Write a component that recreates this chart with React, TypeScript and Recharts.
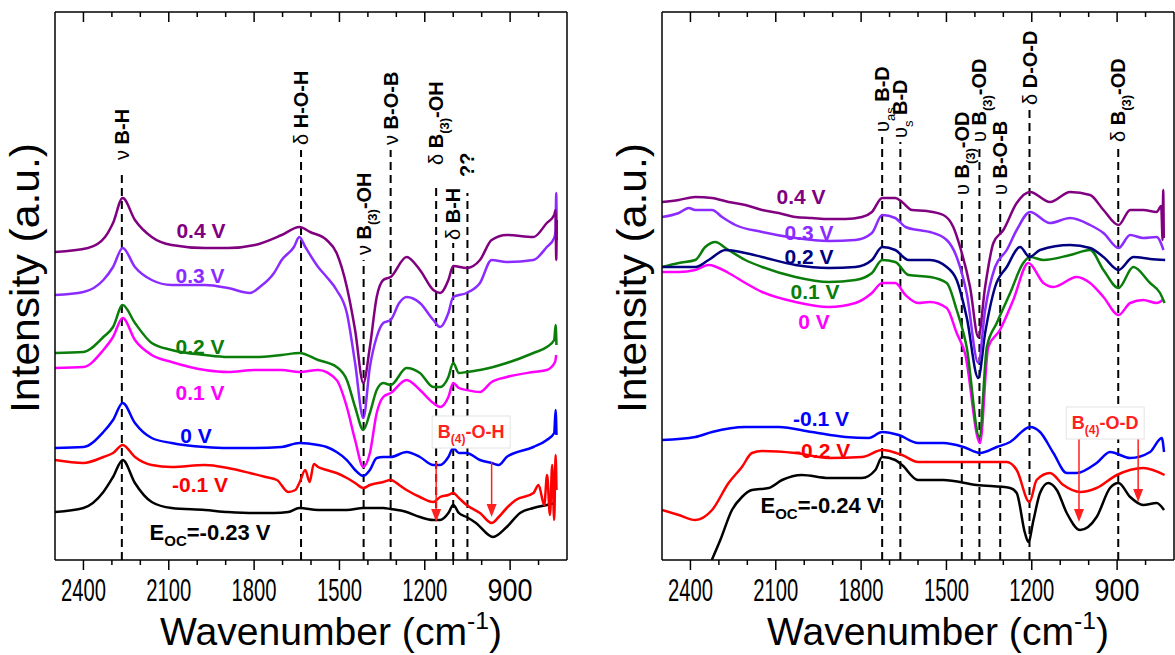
import React from 'react';
import { LineChart, Line, XAxis, YAxis, ReferenceLine, ReferenceDot } from 'recharts';

type Pt = [number, number];

// wavenumber (cm-1), intensity (a.u., stacked offsets as plotted)
// ---- left panel ----
const lEoc: Pt[] = [[2500, 48], [2400, 52], [2330, 68], [2296, 83], [2262, 100], [2219, 77], [2160, 58], [2090, 52], [1973, 50], [1892, 48], [1797, 47], [1730, 47], [1680, 48], [1641, 52], [1575, 50], [1474, 50], [1416, 52], [1346, 52], [1320, 51], [1264, 48], [1217, 43], [1170, 40], [1146, 40], [1117, 47], [1100, 55], [1080, 47], [1053, 43], [1020, 37], [960, 23], [912, 33], [865, 47], [818, 52], [771, 55], [742, 57]];
const lM01: Pt[] = [[2500, 100], [2400, 97], [2330, 103], [2296, 107], [2262, 115], [2219, 103], [2160, 95], [2090, 93], [1973, 95], [1892, 92], [1815, 87], [1760, 83], [1720, 80], [1680, 68], [1655, 70], [1641, 77], [1620, 90], [1605, 78], [1590, 96], [1575, 93], [1545, 90], [1510, 87], [1474, 82], [1445, 77], [1416, 72], [1393, 75], [1346, 78], [1320, 80], [1290, 75], [1264, 70], [1217, 63], [1170, 58], [1146, 63], [1117, 65], [1100, 67], [1080, 62], [1053, 55], [1006, 47], [965, 37], [940, 43], [912, 52], [880, 60], [818, 67], [800, 75], [780, 55], [770, 85], [760, 45], [752, 95], [745, 40], [740, 105], [737, 70]];
const l0: Pt[] = [[2500, 112], [2400, 113], [2330, 128], [2296, 140], [2262, 157], [2219, 137], [2160, 122], [2090, 117], [1973, 113], [1892, 112], [1797, 112], [1703, 113], [1641, 117], [1575, 115], [1545, 113], [1510, 108], [1474, 100], [1445, 90], [1416, 84], [1393, 90], [1369, 102], [1346, 103], [1320, 103], [1264, 108], [1217, 103], [1170, 95], [1146, 95], [1117, 103], [1100, 112], [1080, 107], [1053, 107], [1006, 100], [965, 97], [940, 95], [912, 103], [818, 113], [771, 120], [745, 127], [740, 150], [737, 125]];
const l01: Pt[] = [[2500, 192], [2400, 193], [2330, 210], [2296, 223], [2262, 242], [2219, 220], [2160, 205], [2090, 198], [1973, 190], [1892, 188], [1797, 190], [1703, 190], [1641, 188], [1575, 190], [1510, 180], [1474, 153], [1445, 120], [1416, 93], [1393, 107], [1369, 147], [1346, 163], [1320, 167], [1264, 180], [1217, 170], [1170, 157], [1146, 153], [1117, 163], [1100, 177], [1080, 172], [1053, 170], [1006, 168], [965, 178], [912, 183], [818, 188], [771, 190], [742, 198], [738, 205]];
const l02: Pt[] = [[2500, 207], [2400, 208], [2330, 223], [2296, 233], [2262, 255], [2219, 237], [2160, 217], [2090, 210], [1973, 205], [1892, 203], [1797, 203], [1703, 205], [1641, 207], [1575, 200], [1510, 193], [1474, 180], [1445, 153], [1416, 130], [1393, 147], [1369, 170], [1346, 177], [1320, 175], [1264, 192], [1217, 187], [1170, 173], [1146, 173], [1117, 183], [1100, 197], [1080, 187], [1053, 188], [1006, 190], [912, 197], [818, 207], [771, 213], [745, 220], [740, 235], [737, 215]];
const l03: Pt[] = [[2500, 265], [2400, 268], [2330, 280], [2296, 293], [2262, 312], [2219, 293], [2160, 280], [2090, 275], [1973, 275], [1892, 272], [1815, 267], [1780, 273], [1730, 287], [1703, 300], [1660, 313], [1641, 323], [1620, 313], [1575, 293], [1545, 283], [1510, 270], [1474, 247], [1445, 197], [1416, 142], [1393, 193], [1369, 223], [1346, 237], [1320, 240], [1290, 257], [1264, 263], [1217, 257], [1170, 240], [1146, 233], [1117, 247], [1100, 263], [1053, 267], [1006, 277], [965, 300], [912, 298], [818, 300], [771, 313], [745, 322], [740, 330], [738, 367], [736, 320]];
const l04: Pt[] = [[2500, 308], [2384, 312], [2324, 323], [2296, 337], [2262, 362], [2219, 340], [2160, 323], [2090, 315], [1973, 312], [1892, 312], [1797, 315], [1703, 325], [1641, 333], [1603, 328], [1545, 320], [1510, 307], [1474, 273], [1445, 230], [1416, 177], [1393, 213], [1369, 263], [1346, 280], [1320, 283], [1264, 303], [1217, 290], [1170, 270], [1146, 267], [1117, 280], [1100, 294], [1053, 292], [1006, 300], [965, 320], [912, 325], [818, 323], [771, 337], [745, 345], [740, 350], [738, 300], [736, 340]];

// ---- right panel ----
const rEoc: Pt[] = [[2325, 0], [2295, 20], [2254, 50], [2219, 63], [2184, 70], [2125, 72], [2078, 80], [2008, 85], [1914, 82], [1797, 82], [1750, 90], [1726, 103], [1680, 100], [1656, 95], [1600, 80], [1511, 80], [1394, 75], [1276, 72], [1253, 67], [1224, 27], [1212, 18], [1194, 40], [1171, 67], [1142, 77], [1112, 70], [1077, 47], [1030, 30], [972, 43], [925, 72], [895, 77], [854, 63], [808, 55], [761, 57], [735, 50]];
const rM02: Pt[] = [[2500, 50], [2441, 45], [2383, 40], [2324, 50], [2266, 77], [2219, 93], [2184, 107], [2148, 109], [2031, 107], [1914, 102], [1797, 103], [1726, 110], [1656, 105], [1600, 98], [1511, 98], [1394, 98], [1288, 98], [1253, 90], [1208, 58], [1183, 80], [1136, 87], [1089, 75], [1030, 68], [972, 72], [901, 85], [808, 92], [733, 85]];
const rM01: Pt[] = [[2500, 120], [2383, 123], [2324, 128], [2207, 133], [2090, 133], [1973, 128], [1855, 123], [1773, 122], [1726, 128], [1668, 125], [1600, 117], [1511, 117], [1440, 113], [1382, 107], [1323, 113], [1276, 118], [1206, 133], [1171, 128], [1124, 107], [1077, 87], [1042, 87], [972, 97], [925, 108], [854, 102], [784, 108], [743, 122], [735, 108]];
const r0: Pt[] = [[2500, 288], [2441, 288], [2383, 290], [2336, 295], [2266, 287], [2207, 277], [2148, 268], [2031, 258], [1914, 253], [1820, 257], [1762, 267], [1726, 277], [1680, 277], [1644, 265], [1600, 257], [1558, 258], [1499, 252], [1464, 227], [1435, 207], [1382, 117], [1353, 213], [1312, 230], [1265, 260], [1212, 297], [1159, 277], [1124, 273], [1042, 283], [995, 277], [948, 263], [895, 245], [854, 257], [808, 260], [761, 257], [740, 260]];
const r01: Pt[] = [[2500, 293], [2441, 297], [2383, 300], [2348, 313], [2312, 318], [2277, 312], [2207, 300], [2148, 293], [2031, 283], [1914, 278], [1820, 280], [1762, 287], [1726, 300], [1680, 298], [1633, 285], [1558, 283], [1499, 277], [1464, 250], [1429, 213], [1384, 123], [1358, 213], [1323, 237], [1276, 267], [1230, 297], [1206, 303], [1159, 300], [1065, 305], [995, 310], [948, 290], [895, 272], [843, 293], [784, 277], [749, 267], [733, 257]];
const r02: Pt[] = [[2500, 293], [2441, 293], [2383, 293], [2336, 300], [2277, 310], [2207, 307], [2148, 303], [2031, 295], [1914, 292], [1820, 293], [1762, 300], [1726, 313], [1680, 310], [1633, 300], [1558, 300], [1499, 293], [1464, 280], [1429, 243], [1388, 182], [1364, 227], [1329, 273], [1288, 293], [1241, 313], [1208, 303], [1171, 310], [1065, 315], [995, 312], [948, 303], [895, 290], [843, 303], [784, 301], [731, 300]];
const r03: Pt[] = [[2500, 343], [2441, 347], [2406, 352], [2383, 350], [2324, 350], [2289, 343], [2242, 335], [2148, 328], [2031, 322], [1914, 319], [1820, 320], [1762, 327], [1726, 345], [1680, 342], [1644, 333], [1600, 330], [1558, 328], [1499, 320], [1464, 303], [1429, 267], [1388, 197], [1364, 250], [1329, 293], [1288, 310], [1253, 330], [1206, 348], [1136, 337], [1065, 342], [995, 335], [948, 327], [895, 312], [854, 325], [808, 322], [761, 323], [737, 310]];
const r04: Pt[] = [[2500, 358], [2441, 360], [2383, 363], [2324, 362], [2266, 358], [2207, 355], [2148, 350], [2090, 347], [2031, 343], [1973, 342], [1914, 341], [1855, 341], [1797, 343], [1762, 348], [1726, 362], [1680, 362], [1656, 358], [1621, 350], [1569, 349], [1511, 345], [1476, 333], [1452, 313], [1417, 273], [1388, 223], [1364, 273], [1335, 317], [1300, 330], [1253, 357], [1206, 368], [1136, 358], [1065, 368], [995, 365], [948, 350], [895, 335], [854, 350], [808, 350], [761, 348], [745, 354], [740, 320], [738, 370], [736, 322]];

const xTicks = [2400, 2300, 2200, 2100, 2000, 1900, 1800, 1700, 1600, 1500, 1400, 1300, 1200, 1100, 1000, 900, 800];

type Part = [string, 'g' | 'b' | 's' | 'r'];
type Mark = { wn: number; top: number; lab: number; parts: Part[] };

const leftMarks: Mark[] = [
  { wn: 2265, top: 390, lab: 400, parts: [['ν ', 'g'], ['B-H', 'b']] },
  { wn: 1635, top: 410, lab: 415, parts: [['δ ', 'g'], ['H-O-H', 'b']] },
  { wn: 1415, top: 300, lab: 305, parts: [['ν ', 'g'], ['B', 'b'], ['(3)', 's'], ['-OH', 'b']] },
  { wn: 1320, top: 410, lab: 415, parts: [['ν ', 'g'], ['B-O-B', 'b']] },
  { wn: 1160, top: 373, lab: 395, parts: [['δ ', 'g'], ['B', 'b'], ['(3)', 's'], ['-OH', 'b']] },
  { wn: 1100, top: 317, lab: 320, parts: [['δ ', 'g'], ['B-H', 'b']] },
  { wn: 1050, top: 367, lab: 383, parts: [['??', 'b']] },
];
const rightMarks: Mark[] = [
  { wn: 1726, top: 423, lab: 428, parts: [['υ', 'g'], ['as', 'r'], [' B-D', 'b']] },
  { wn: 1662, top: 418, lab: 422, parts: [['υ', 'g'], ['s', 'r'], [' B-D', 'b']] },
  { wn: 1446, top: 360, lab: 365, parts: [['υ ', 'g'], ['B', 'b'], ['(3)', 's'], ['-OD', 'b']] },
  { wn: 1384, top: 415, lab: 418, parts: [['υ ', 'g'], ['B', 'b'], ['(3)', 's'], ['-OD', 'b']] },
  { wn: 1311, top: 360, lab: 365, parts: [['υ ', 'g'], ['B-O-B', 'b']] },
  { wn: 1208, top: 452, lab: 455, parts: [['δ ', 'g'], ['D-O-D', 'b']] },
  { wn: 896, top: 412, lab: 418, parts: [['δ ', 'g'], ['B', 'b'], ['(3)', 's'], ['-OD', 'b']] },
];

type Series = { name: string; color: string; pts: Pt[]; lx: number; ly: number; sub?: string };
const leftSeries: Series[] = [
  { name: 'E', sub: '=-0.23 V', color: '#000000', pts: lEoc, lx: 1955, ly: 28 },
  { name: '-0.1 V', color: '#ff0000', pts: lM01, lx: 1990, ly: 76 },
  { name: '0 V', color: '#0000ff', pts: l0, lx: 2004, ly: 125 },
  { name: '0.1 V', color: '#ff00ff', pts: l01, lx: 1990, ly: 168 },
  { name: '0.2 V', color: '#0a7d0a', pts: l02, lx: 1990, ly: 214 },
  { name: '0.3 V', color: '#8b2bff', pts: l03, lx: 1990, ly: 285 },
  { name: '0.4 V', color: '#800080', pts: l04, lx: 1987, ly: 330 },
];
const rightSeries: Series[] = [
  { name: 'E', sub: '=-0.24 V', color: '#000000', pts: rEoc, lx: 1941, ly: 55 },
  { name: '-0.2 V', color: '#ff0000', pts: rM02, lx: 1937, ly: 110 },
  { name: '-0.1 V', color: '#0000ff', pts: rM01, lx: 1941, ly: 142 },
  { name: '0 V', color: '#ff00ff', pts: r0, lx: 1966, ly: 239 },
  { name: '0.1 V', color: '#0a7d0a', pts: r01, lx: 1962, ly: 269 },
  { name: '0.2 V', color: '#000080', pts: r02, lx: 1983, ly: 304 },
  { name: '0.3 V', color: '#8b2bff', pts: r03, lx: 1983, ly: 328 },
  { name: '0.4 V', color: '#800080', pts: r04, lx: 2011, ly: 364 },
];

// red arrows: [wn, from], [wn, to]
const leftArrows: Pt[][] = [[[1160, 98], [1160, 38]], [[965, 98], [965, 43]]];
const rightArrows: Pt[][] = [[[1034, 127], [1034, 38]], [[826, 127], [826, 58]]];

const FONT = '"Liberation Sans", Arial, sans-serif';

const BottomTick = (props: any) => {
  const { x, y, payload } = props;
  const major = payload.value % 300 === 0;
  return (
    <g>
      <line x1={x} x2={x} y1={y} y2={y + (major ? 10 : 5)} stroke="#000" strokeWidth={1.5} />
      {major && (
        <text x={x} y={y + 41} textAnchor="middle" fontSize={31} fontFamily={FONT} textLength={45} lengthAdjust="spacingAndGlyphs" fill="#000">
          {payload.value}
        </text>
      )}
    </g>
  );
};

const TopTick = (props: any) => {
  const { x, y, payload } = props;
  const major = payload.value % 300 === 0;
  return <line x1={x} x2={x} y1={y} y2={y + (major ? 10 : 5)} stroke="#000" strokeWidth={1.5} />;
};

const XTitle = (props: any) => {
  const { viewBox } = props;
  const cx = viewBox.x + viewBox.width / 2 + 20;
  return (
    <text x={cx} y={viewBox.y + 85} textAnchor="middle" fontSize={38} fontFamily={FONT} fill="#000" textLength={342} lengthAdjust="spacingAndGlyphs">
      Wavenumber (cm<tspan fontSize={24} dy={-16}>-1</tspan><tspan dy={16}>)</tspan>
    </text>
  );
};

const YTitle = (props: any) => {
  const { viewBox } = props;
  const x = viewBox.x - 28;
  const y = viewBox.y + viewBox.height / 2 - 8;
  return (
    <text x={x} y={y} transform={`rotate(-90 ${x} ${y})`} textAnchor="middle" dominantBaseline="central" fontSize={40} fontFamily={FONT} fill="#000" textLength={270} lengthAdjust="spacingAndGlyphs">
      Intensity (a.u.)
    </text>
  );
};

const rotLabel = (parts: Part[]) => (props: any) => {
  const { cx, cy } = props;
  let prevSub = false;
  return (
    <text x={cx} y={cy} dy={7} transform={`rotate(-90 ${cx} ${cy})`} fontFamily={FONT} fontSize={20} fill="#000">
      {parts.map(([t, k], i) => {
        const sub = k === 's' || k === 'r';
        const dy = (sub ? 6 : 0) - (prevSub ? 6 : 0);
        prevSub = sub;
        return (
          <tspan key={i} dy={dy || undefined} fontWeight={k === 'b' || k === 's' ? 'bold' : 'normal'} fontSize={sub ? 13 : 20}>
            {t}
          </tspan>
        );
      })}
    </text>
  );
};

const seriesLabel = (s: Series) => (props: any) => {
  const { cx, cy } = props;
  if (s.sub) {
    return (
      <text x={cx} y={cy} dy={8} textAnchor="middle" fontFamily={FONT} fontWeight="bold" fontSize={22} fill={s.color}>
        E<tspan fontSize={15} dy={6}>OC</tspan>
        <tspan dy={-6}>{s.sub}</tspan>
      </text>
    );
  }
  return (
    <text x={cx} y={cy} dy={8} textAnchor="middle" fontFamily={FONT} fontWeight="bold" fontSize={21} fill={s.color}>
      {s.name}
    </text>
  );
};

const boxLabel = (end: string) => (props: any) => {
  const { cx, cy } = props;
  return (
    <g>
      <rect x={cx - 39} y={cy - 16} width={78} height={32} fill="#fff" stroke="#e4e4e4" strokeWidth={1} />
      <text x={cx} y={cy} dy={6} textAnchor="middle" fontFamily={FONT} fontWeight="bold" fontSize={18} fill="#ff2020">
        B<tspan fontSize={12} dy={5}>(4)</tspan>
        <tspan dy={-5}>{end}</tspan>
      </text>
    </g>
  );
};

const arrowHead = (props: any) => {
  const { cx, cy } = props;
  return <polygon points={`${cx - 5},${cy - 13} ${cx + 5},${cy - 13} ${cx},${cy}`} fill="#ff2020" />;
};

type PanelProps = { series: Series[]; marks: Mark[]; arrows: Pt[][]; box: { wn: number; v: number; end: string }; width: number; margin: any };

const Panel = ({ series, marks, arrows, box, width, margin }: PanelProps) => (
  <LineChart width={width} height={655} margin={margin}>
    <XAxis
      dataKey="wn"
      type="number"
      domain={[700, 2500]}
      reversed
      allowDataOverflow
      ticks={xTicks}
      tick={<BottomTick />}
      tickLine={false}
      tickSize={0}
      tickMargin={0}
      height={40}
      interval={0}
      axisLine={{ stroke: '#000', strokeWidth: 1.5 }}
      label={<XTitle />}
    />
    <XAxis
      xAxisId="top"
      orientation="top"
      dataKey="wn"
      type="number"
      domain={[700, 2500]}
      reversed
      allowDataOverflow
      ticks={xTicks}
      tick={<TopTick />}
      tickLine={false}
      tickSize={0}
      tickMargin={0}
      height={2}
      interval={0}
      axisLine={{ stroke: '#000', strokeWidth: 1.5 }}
    />
    <YAxis
      type="number"
      domain={[0, 548]}
      allowDataOverflow
      tick={false}
      tickLine={false}
      width={2}
      axisLine={{ stroke: '#000', strokeWidth: 1.5 }}
      label={<YTitle />}
    />
    <YAxis
      yAxisId="right"
      orientation="right"
      type="number"
      domain={[0, 548]}
      allowDataOverflow
      tick={false}
      tickLine={false}
      width={2}
      axisLine={{ stroke: '#000', strokeWidth: 1.5 }}
    />
    {marks.map((m) => (
      <ReferenceLine
        key={'d' + m.wn}
        segment={[{ x: m.wn, y: 0 }, { x: m.wn, y: m.top }]}
        stroke="#000"
        strokeWidth={2}
        strokeDasharray="8 5"
      />
    ))}
    {series.map((s) => (
      <Line
        key={s.name + s.color}
        data={s.pts.map(([wn, v]) => ({ wn, v }))}
        dataKey="v"
        type="monotone"
        stroke={s.color}
        strokeWidth={2.5}
        dot={false}
        activeDot={false}
        isAnimationActive={false}
      />
    ))}
    {marks.map((m) => (
      <ReferenceDot key={'l' + m.wn} x={m.wn} y={m.lab} ifOverflow="visible" shape={rotLabel(m.parts)} />
    ))}
    {series.map((s) => (
      <ReferenceDot key={'s' + s.name + s.color} x={s.lx} y={s.ly} ifOverflow="visible" shape={seriesLabel(s)} />
    ))}
    {arrows.map((a, i) => (
      <ReferenceLine
        key={'a' + i}
        segment={[{ x: a[0][0], y: a[0][1] }, { x: a[1][0], y: a[1][1] + 10 }]}
        stroke="#ff2020"
        strokeWidth={1.5}
      />
    ))}
    {arrows.map((a, i) => (
      <ReferenceDot key={'h' + i} x={a[1][0]} y={a[1][1]} ifOverflow="visible" shape={arrowHead} />
    ))}
    <ReferenceDot x={box.wn} y={box.v} ifOverflow="visible" shape={boxLabel(box.end)} />
  </LineChart>
);

export default function App() {
  return (
    <div style={{ position: 'fixed', left: 0, top: 0, width: 1175, height: 655, background: '#fff', overflow: 'hidden' }}>
      <div style={{ position: 'absolute', left: 0, top: 0 }}>
        <Panel
          series={leftSeries}
          marks={leftMarks}
          arrows={leftArrows}
          box={{ wn: 1037, v: 128, end: '-O-H' }}
          width={590}
          margin={{ top: 10, left: 53, right: 21, bottom: 55 }}
        />
      </div>
      <div style={{ position: 'absolute', left: 600, top: 0 }}>
        <Panel
          series={rightSeries}
          marks={rightMarks}
          arrows={rightArrows}
          box={{ wn: 942, v: 137, end: '-O-D' }}
          width={575}
          margin={{ top: 10, left: 60, right: -1, bottom: 55 }}
        />
      </div>
    </div>
  );
}
